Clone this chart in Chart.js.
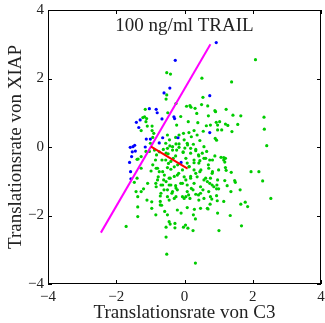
<!DOCTYPE html>
<html>
<head>
<meta charset="utf-8">
<script src="https://cdn.jsdelivr.net/npm/chart.js@4"></script>
<style>
  html, body { margin: 0; padding: 0; background: #fff; }
</style>
</head>
<body>
<canvas id="scatterChart" width="325" height="323"></canvas>
<script>
// axis ticks
const axisTicks = [-4, -2, 0, 2, 4];

// blue points (left of the boundary)
const bluePoints = [
  [0.93, 3.05], [-0.27, 2.53], [-0.43, 1.72], [-0.60, 1.58], [0.74, 1.50],
  [-1.03, 1.12], [-0.83, 1.10], [-0.80, 1.00], [-0.31, 0.88], [-0.66, 0.82],
  [-0.29, 0.83], [-1.41, 0.72], [-1.30, 0.79], [-1.34, 0.57], [0.74, 0.42],
  [-0.19, 0.27], [-1.12, 0.23], [-1.00, 0.23], [-0.64, 0.27], [-0.74, 0.12],
  [-1.15, 0.00], [-1.59, -0.01], [-1.51, 0.01], [-1.46, 0.05], [-1.53, -0.14],
  [-1.44, -0.12], [-1.55, -0.28], [-1.61, -0.45], [-1.58, -0.72], [-1.57, -0.93],
  [-0.10, -0.45]
];

// green points
const greenPoints = [
  // upper part
  [2.08, 2.55], [-0.52, 2.17], [-0.41, 2.13], [0.51, 2.01], [1.38, 1.90],
  [-0.52, 1.52], [-0.54, 1.40], [0.54, 1.45], [-0.25, 1.27], [0.50, 1.24],
  [0.06, 1.19], [0.16, 1.21], [0.19, 1.16], [0.68, 1.20], [0.31, 1.13],
  [1.22, 1.10], [-1.15, 1.10], [0.89, 1.06], [-0.49, 1.00],
  // right upper
  [0.91, 1.03], [1.42, 0.93], [1.65, 0.91], [2.33, 0.87], [0.93, 0.72],
  [0.97, 0.64], [1.03, 0.74], [1.20, 0.67], [1.27, 0.63], [1.56, 0.66],
  [0.97, 0.50], [1.09, 0.50], [1.39, 0.45], [2.34, 0.52], [0.90, 0.25],
  [0.94, 0.20], [2.41, 0.04], [0.89, -0.26], [1.07, -0.30], [1.15, -0.31],
  [1.20, -0.33], [1.15, -0.38], [1.18, -0.44],
  // centre upper
  [0.36, 0.98], [0.70, 0.91], [-0.11, 0.89], [0.39, 0.71], [0.11, 0.74],
  [0.64, 0.62], [-0.23, 0.64], [0.76, 0.64], [0.28, 0.48], [0.55, 0.46],
  [-0.03, 0.40], [0.13, 0.42], [-0.50, 0.35], [-0.16, 0.35], [-0.26, 0.28],
  [0.20, 0.30], [0.37, 0.35], [-0.44, 0.21], [-0.01, 0.21], [0.45, 0.19],
  [-0.55, 0.11], [-0.16, 0.09], [0.08, 0.11], [0.26, 0.08], [-0.35, 0.01],
  [0.01, -0.03], [0.57, 0.01], [-0.50, -0.04], [-0.23, -0.09], [0.33, -0.07],
  [0.65, -0.13], [-0.04, -0.16], [0.18, -0.18], [-0.48, -0.20], [-0.26, -0.26],
  [0.42, -0.26], [0.04, -0.33], [0.57, -0.33], [0.74, -0.38], [-0.55, -0.38],
  [-0.40, -0.42], [0.28, -0.38], [0.08, -0.47], [0.42, -0.47],
  // left upper
  [-1.17, 0.88], [-1.22, 0.86], [-1.11, 0.83], [-1.13, 0.74], [-1.09, 0.61],
  [-0.95, 0.61], [-1.27, 0.48], [-0.95, 0.48], [-0.90, 0.40], [-0.93, 0.28],
  [-1.00, 0.11], [-1.13, -0.13], [-1.03, -0.13], [-1.27, -0.28], [-1.39, -0.36],
  [-1.36, -0.35],
  // dense core
  [-0.88, -0.09], [-0.82, -0.23], [-0.85, -0.38], [-0.74, -0.14], [-0.62, -0.07],
  [-0.54, -0.18], [-0.43, 0.03], [-0.35, -0.09], [-0.25, 0.09], [-0.16, -0.01],
  [-0.04, -0.14], [0.09, 0.06], [0.18, -0.04], [0.33, -0.11], [0.41, -0.23],
  [0.52, -0.18], [0.62, -0.33], [0.45, -0.40], [0.28, -0.46], [0.14, -0.57],
  [-0.06, -0.67], [-0.17, -0.77], [-0.30, -0.86], [-0.45, -0.91], [-0.59, -0.82],
  [-0.74, -0.72], [-0.83, -0.62], [-0.93, -0.52], [-0.79, -0.96], [-0.64, -1.11],
  [-0.50, -1.25], [-0.37, -1.35], [-0.25, -1.20], [-0.11, -1.06], [0.04, -0.96],
  [0.18, -0.86], [0.33, -0.77], [0.48, -0.67], [0.62, -0.91], [0.74, -1.06],
  [0.82, -0.72], [0.86, -1.16], [0.54, -1.25], [0.41, -1.40], [0.25, -1.25],
  [0.12, -1.40], [-0.01, -1.50], [-0.66, -0.38], [-0.47, -0.48], [-0.33, -0.33],
  [-0.20, -0.52], [-0.40, -0.65], [-0.54, -1.01], [-0.40, -1.11], [-0.25, -1.45],
  [-0.69, -1.35], [-0.83, -1.16], [0.82, -0.38], [0.70, -0.52],
  // centre lower
  [-0.79, -0.62], [-0.64, -0.72], [-0.50, -0.60], [-0.30, -0.58], [0.13, -0.58],
  [0.28, -0.67], [0.45, -0.72], [0.71, -0.62], [0.81, -0.77], [-0.77, -0.87],
  [-0.61, -0.96], [-0.42, -0.91], [-0.21, -0.82], [-0.01, -0.87], [0.18, -0.91],
  [0.37, -0.87], [0.57, -0.96], [0.76, -0.91], [-0.84, -1.06], [-0.69, -1.11],
  [-0.45, -1.11], [-0.26, -1.13], [-0.06, -1.06], [0.08, -1.11], [0.28, -1.06],
  [0.47, -1.16], [0.67, -1.01], [0.81, -1.11], [-0.60, -1.25], [-0.35, -1.30],
  [-0.21, -1.25], [0.08, -1.30], [0.20, -1.21], [0.47, -1.35], [0.71, -1.30],
  [-0.50, -1.45], [-0.30, -1.50], [-0.06, -1.45], [0.04, -1.45], [0.16, -1.50],
  [0.33, -1.38], [0.57, -1.50], [0.76, -1.45], [-0.71, -1.69], [-0.45, -1.55],
  [0.42, -1.55], [0.67, -1.79], [-0.21, -1.84], [0.08, -1.77], [0.47, -1.79],
  [0.26, -1.98], [-0.84, -1.98], [-0.50, -1.98],
  [-0.58, -1.88], [-0.10, -1.93], [0.29, -1.82], [0.69, -1.81], [0.75, -1.67],
  [0.80, -1.52], [0.32, -2.10], [-0.71, -1.59], [-0.67, -1.70], [-0.71, -1.43],
  // left lower
  [-1.27, -0.62], [-0.98, -0.70], [-1.39, -0.91], [-1.47, -1.03], [-1.08, -1.06],
  [-1.20, -1.22], [-1.27, -1.30], [-1.42, -1.30], [-1.37, -1.45], [-1.10, -1.55],
  [-0.96, -1.60], [-1.37, -1.75], [-0.96, -1.79], [-1.37, -2.03],
  // right lower
  [1.00, -0.67], [1.20, -0.60], [1.22, -0.68], [1.37, -0.74], [1.95, -0.72],
  [2.18, -0.72], [0.97, -0.96], [1.18, -0.98], [1.47, -0.98], [1.49, -1.03],
  [2.29, -0.99], [0.95, -1.11], [0.94, -1.22], [1.00, -1.22], [1.25, -1.13],
  [1.36, -1.30], [1.63, -1.25], [0.94, -1.42], [0.96, -1.57], [1.15, -1.59],
  [1.65, -1.67], [1.78, -1.61], [1.85, -1.74], [2.53, -1.50], [0.97, -1.93],
  [1.34, -2.00],
  // bottom
  [-1.71, -2.32], [-0.54, -2.34], [-0.54, -2.63], [-0.52, -3.13], [-0.45, -2.18],
  [-0.42, -2.25], [-0.28, -2.23], [-0.28, -2.36], [-0.03, -2.34],
  [0.03, -2.28], [0.10, -2.37], [0.25, -2.44], [1.01, -2.44], [1.67, -2.30],
  [0.32, -3.39]
];

// magenta boundary and red normal
const boundaryLine = [[-2.45, -2.50], [0.76, 3.00]];
const normalLine = [[-0.98, 0.01], [0.09, -0.63]];

const toXY = (arr) => arr.map((p) => ({ x: p[0], y: p[1] }));
const serif = "'Liberation Serif', 'DejaVu Serif', serif";
const minusLabel = (v) => String(v).replace("-", "\u2212");

// box with inward ticks and the inner title
const framePlugin = {
  id: "frame",
  afterDraw(chart) {
    const { ctx, chartArea, scales } = chart;
    const { left, right, top, bottom } = chartArea;
    ctx.save();
    ctx.strokeStyle = "#000";
    ctx.lineWidth = 1;
    ctx.strokeRect(left + 0.5, top + 0.5, right - left - 1, bottom - top - 1);
    const len = 4;
    axisTicks.forEach((v) => {
      const px = Math.round(scales.x.getPixelForValue(v)) + 0.5;
      const py = Math.round(scales.y.getPixelForValue(v)) + 0.5;
      ctx.beginPath();
      ctx.moveTo(px, bottom); ctx.lineTo(px, bottom - len);
      ctx.moveTo(px, top); ctx.lineTo(px, top + len);
      ctx.moveTo(left, py); ctx.lineTo(left + len, py);
      ctx.moveTo(right, py); ctx.lineTo(right - len, py);
      ctx.stroke();
    });
    ctx.fillStyle = "#222";
    ctx.font = "19px " + serif;
    ctx.textAlign = "center";
    ctx.textBaseline = "middle";
    ctx.fillText("100 ng/ml TRAIL", (left + right) / 2, top + 16);
    ctx.restore();
  },
};

const ctx = document.getElementById("scatterChart").getContext("2d");
const scatterChart = new Chart(ctx, {
  type: "scatter",
  data: {
    datasets: [
      {
        data: toXY(normalLine),
        showLine: true,
        borderColor: "#ff0000",
        borderWidth: 2,
        pointRadius: 0,
      },
      {
        data: toXY(boundaryLine),
        showLine: true,
        borderColor: "#ff00ff",
        borderWidth: 2,
        pointRadius: 0,
      },
      {
        data: toXY(bluePoints),
        backgroundColor: "#0000ff",
        borderWidth: 0,
        pointRadius: 1.6,
      },
      {
        data: toXY(greenPoints),
        backgroundColor: "#00cc00",
        borderWidth: 0,
        pointRadius: 1.6,
      },
    ],
  },
  options: {
    responsive: false,
    animation: false,
    devicePixelRatio: 1,
    layout: { padding: { top: 10, right: 2, left: 0, bottom: 0 } },
    plugins: { legend: { display: false }, tooltip: { enabled: false } },
    scales: {
      x: {
        type: "linear",
        min: -4,
        max: 4,
        afterBuildTicks: (scale) => { scale.ticks = axisTicks.map((v) => ({ value: v })); },
        afterFit: (scale) => {
          scale.height = 39;
          scale.paddingLeft = 0;
          scale.paddingRight = 0;
        },
        grid: { display: false, drawTicks: false },
        border: { display: false },
        ticks: {
          padding: 4,
          color: "#222",
          font: { family: serif, size: 15 },
          callback: minusLabel,
        },
        title: {
          display: true,
          text: "Translationsrate von C3",
          color: "#222",
          font: { family: serif, size: 19, lineHeight: 1.1 },
          padding: { top: 0, bottom: 0 },
        },
      },
      y: {
        type: "linear",
        min: -4,
        max: 4,
        afterBuildTicks: (scale) => { scale.ticks = axisTicks.map((v) => ({ value: v })); },
        afterFit: (scale) => {
          scale.width = 48;
          scale.paddingTop = 0;
          scale.paddingBottom = 0;
        },
        grid: { display: false, drawTicks: false },
        border: { display: false },
        ticks: {
          padding: 4,
          color: "#222",
          font: { family: serif, size: 15 },
          callback: minusLabel,
        },
        title: {
          display: true,
          text: "Translationsrate von XIAP",
          color: "#222",
          font: { family: serif, size: 19, lineHeight: 1.1 },
          padding: { top: 6, bottom: 0 },
        },
      },
    },
  },
  plugins: [framePlugin],
});
</script>
</body>
</html>
